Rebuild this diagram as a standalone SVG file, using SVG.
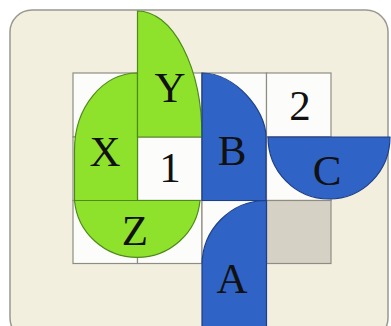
<svg xmlns="http://www.w3.org/2000/svg" width="391" height="326" viewBox="0 0 391 326">
<defs>
<style>
.cell{fill:#fcfcfa;stroke:#8f8c84;stroke-width:1.2}
.gray{fill:#d5d2c5;stroke:#8f8c84;stroke-width:1.2}
.green{fill:#8ee22c;stroke:#4e8a1a;stroke-width:1.2}
.blue{fill:#2f63c6;stroke:#1d3f86;stroke-width:1.2}
.lbl{font-family:"Liberation Serif",serif;font-size:43px;fill:#111;text-anchor:middle}
</style>
</defs>
<rect width="391" height="326" fill="#ffffff"/>
<rect x="10" y="10" width="378" height="330" rx="22" fill="#f3efdf" stroke="#9a9890" stroke-width="1.5"/>
<g id="grid">
<rect class="cell" x="73" y="73" width="64.5" height="64"/>
<rect class="cell" x="137.5" y="73" width="64.5" height="64"/>
<rect class="cell" x="202" y="73" width="64.5" height="64"/>
<rect class="cell" x="266.5" y="73" width="64.5" height="64"/>
<rect class="cell" x="73" y="137" width="64.5" height="63.5"/>
<rect class="cell" x="137.5" y="137" width="64.5" height="63.5"/>
<rect class="cell" x="202" y="137" width="64.5" height="63.5"/>
<rect class="cell" x="266.5" y="137" width="64.5" height="63.5"/>
<rect class="cell" x="73" y="200.5" width="64.5" height="63"/>
<rect class="cell" x="137.5" y="200.5" width="64.5" height="63"/>
<rect class="cell" x="202" y="200.5" width="64.5" height="63"/>
<rect class="gray" x="266.5" y="200.5" width="64.5" height="63"/>
</g>
<g id="node-X">
<path class="green" d="M137.5,73 A63,77 0 0 0 74.5,150 L74.5,200.5 L137.5,200.5 Z"/>
<text class="lbl" x="105" y="166">X</text>
</g>
<g id="node-Y">
<path class="green" d="M137.5,11 A64.5,126 0 0 1 202,137 L137.5,137 Z"/>
<text class="lbl" x="170" y="102">Y</text>
</g>
<g id="node-Z">
<path class="green" d="M74.5,200.5 A63,62.5 0 0 0 200,200.5 Z"/>
<text class="lbl" x="135" y="245">Z</text>
</g>
<g id="node-1">
<text class="lbl" x="170" y="182">1</text>
</g>
<g id="node-2">
<text class="lbl" x="300" y="120">2</text>
</g>
<g id="node-B">
<path class="blue" d="M202,73 C235,73 266,110 266,137 L266,200.5 L202,200.5 Z"/>
<text class="lbl" x="232" y="165">B</text>
</g>
<g id="node-C">
<path class="blue" d="M268,137 A61,62 0 0 0 390,137 Z"/>
<text class="lbl" x="327" y="185">C</text>
</g>
<g id="node-A">
<path class="blue" d="M266.5,200.5 A64.5,65 0 0 0 202,265.5 L202,330 L266.5,330 Z"/>
<text class="lbl" x="232" y="293">A</text>
</g>
<g id="connectors"/>
</svg>
